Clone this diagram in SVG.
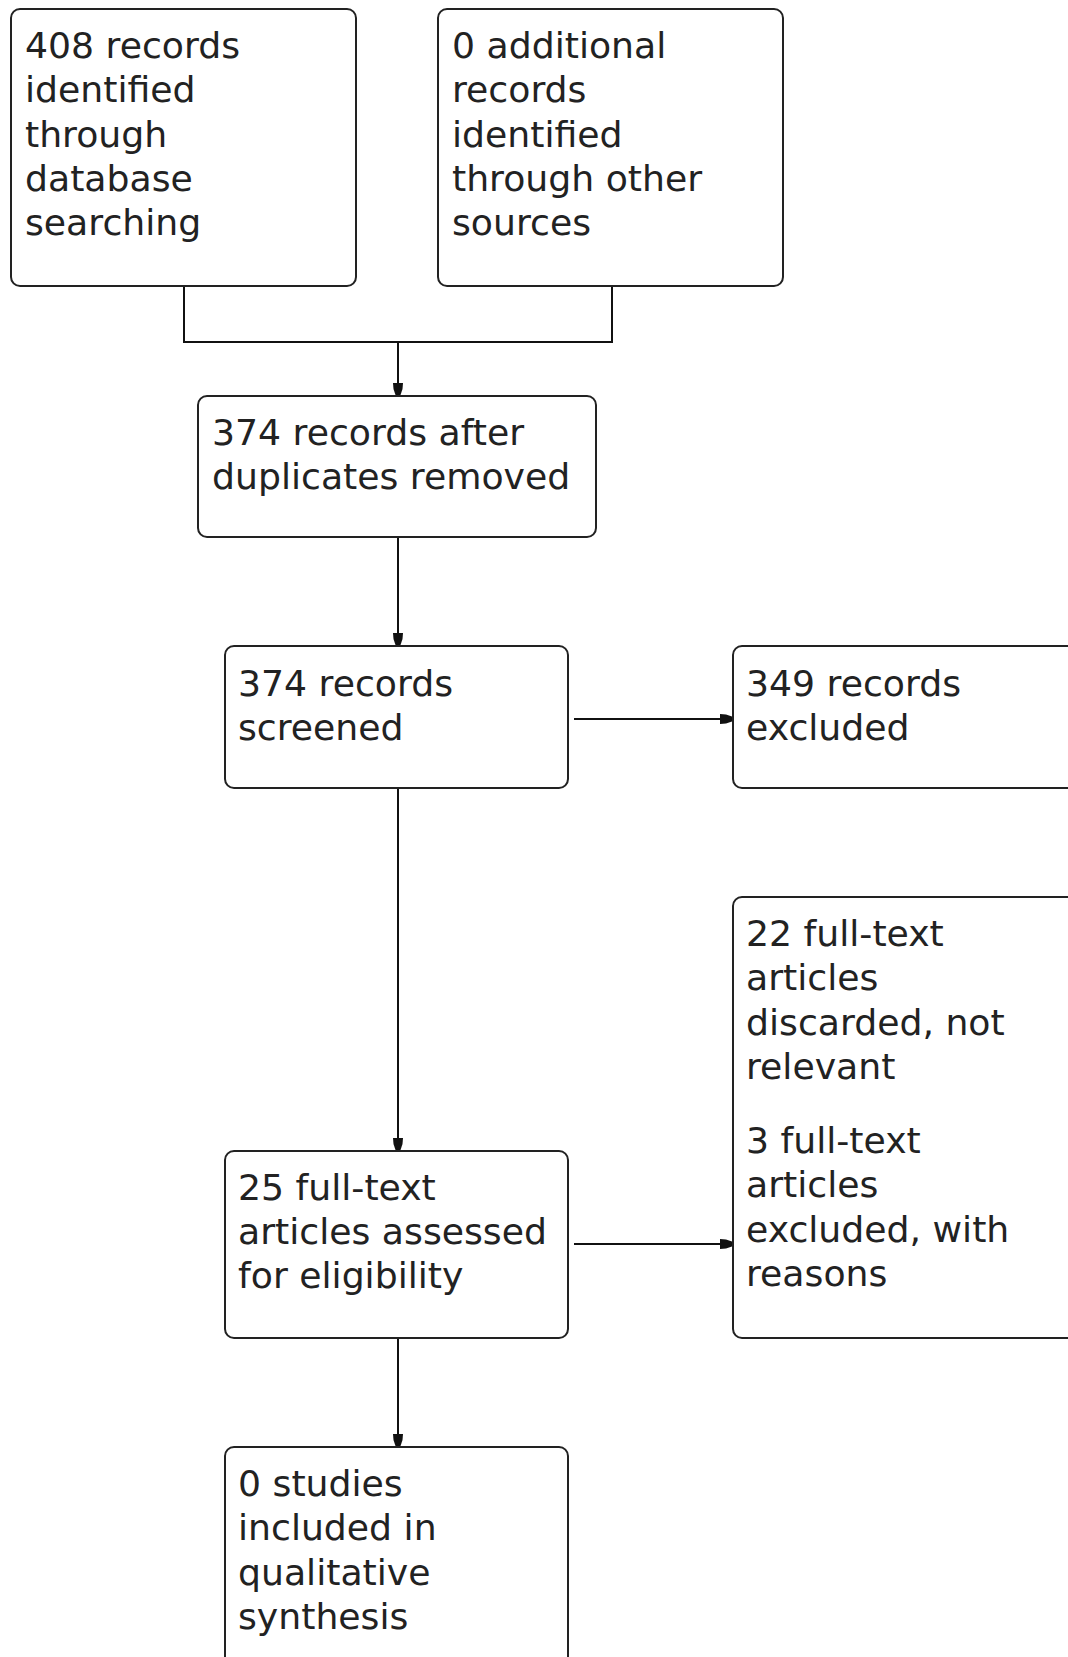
<svg xmlns="http://www.w3.org/2000/svg" width="1068" height="1657" viewBox="0 0 1068 1657">
<style>
.box{fill:#fff;stroke:#222;stroke-width:2}
.t{font-family:"DejaVu Sans","Liberation Sans",sans-serif;font-size:36.2px;fill:#222}
.c{fill:none;stroke:#111;stroke-width:2}
</style>
<defs>
<marker id="ah" markerUnits="userSpaceOnUse" markerWidth="14" markerHeight="12" refX="12" refY="6" orient="auto">
<path d="M0,1 L6,1.5 L12,3.5 L12,8.5 L6,10.5 L0,11 z" fill="#111"/>
</marker>
</defs>
<rect width="1068" height="1657" fill="#fff"/>
<g id="connectors">
<path class="c" d="M184,286 V342 H612 V286"/>
<path class="c" d="M398,342 V395" marker-end="url(#ah)"/>
<path class="c" d="M398,537 V645" marker-end="url(#ah)"/>
<path class="c" d="M398,788 V1150" marker-end="url(#ah)"/>
<path class="c" d="M398,1338 V1446" marker-end="url(#ah)"/>
<path class="c" d="M574,719 H732" marker-end="url(#ah)"/>
<path class="c" d="M574,1244 H732" marker-end="url(#ah)"/>
</g>
<g id="n1">
<rect class="box" x="11" y="9" width="345" height="277" rx="9"/>
<text class="t"><tspan x="25" y="58">408 records</tspan><tspan x="25" y="102">identified</tspan><tspan x="25" y="147">through</tspan><tspan x="25" y="191">database</tspan><tspan x="25" y="235">searching</tspan></text>
</g>
<g id="n2">
<rect class="box" x="438" y="9" width="345" height="277" rx="9"/>
<text class="t"><tspan x="452" y="58">0 additional</tspan><tspan x="452" y="102">records</tspan><tspan x="452" y="147">identified</tspan><tspan x="452" y="191">through other</tspan><tspan x="452" y="235">sources</tspan></text>
</g>
<g id="n3">
<rect class="box" x="198" y="396" width="398" height="141" rx="9"/>
<text class="t"><tspan x="212" y="445">374 records after</tspan><tspan x="212" y="489">duplicates removed</tspan></text>
</g>
<g id="n4">
<rect class="box" x="225" y="646" width="343" height="142" rx="9"/>
<text class="t"><tspan x="238" y="696">374 records</tspan><tspan x="238" y="740">screened</tspan></text>
</g>
<g id="n5">
<rect class="box" x="733" y="646" width="360" height="142" rx="9"/>
<text class="t"><tspan x="746" y="696">349 records</tspan><tspan x="746" y="740">excluded</tspan></text>
</g>
<g id="n6">
<rect class="box" x="733" y="897" width="360" height="441" rx="9"/>
<text class="t"><tspan x="746" y="946">22 full-text</tspan><tspan x="746" y="990">articles</tspan><tspan x="746" y="1035">discarded, not</tspan><tspan x="746" y="1079">relevant</tspan><tspan x="746" y="1153">3 full-text</tspan><tspan x="746" y="1197">articles</tspan><tspan x="746" y="1242">excluded, with</tspan><tspan x="746" y="1286">reasons</tspan></text>
</g>
<g id="n7">
<rect class="box" x="225" y="1151" width="343" height="187" rx="9"/>
<text class="t"><tspan x="238" y="1200">25 full-text</tspan><tspan x="238" y="1244">articles assessed</tspan><tspan x="238" y="1288">for eligibility</tspan></text>
</g>
<g id="n8">
<rect class="box" x="225" y="1447" width="343" height="230" rx="9"/>
<text class="t"><tspan x="238" y="1496">0 studies</tspan><tspan x="238" y="1540">included in</tspan><tspan x="238" y="1585">qualitative</tspan><tspan x="238" y="1629">synthesis</tspan></text>
</g>
</svg>
